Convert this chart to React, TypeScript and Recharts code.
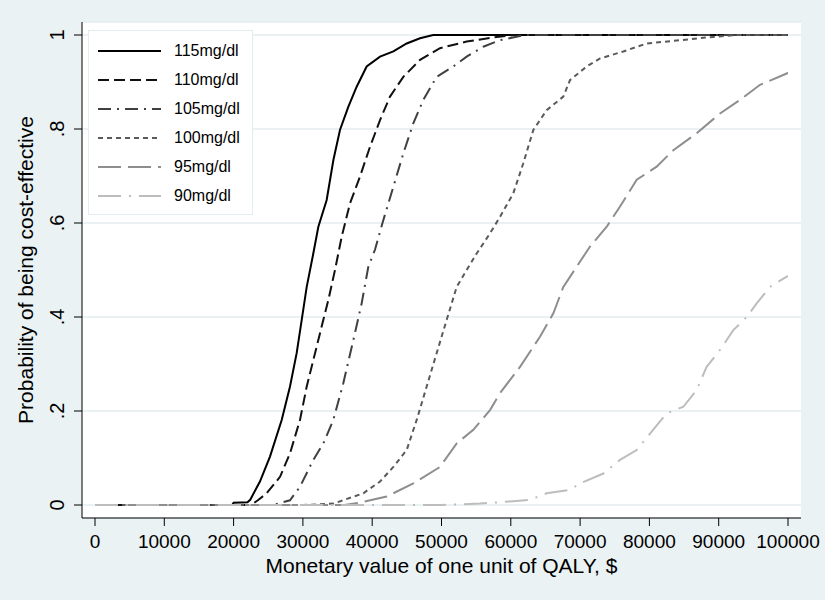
import React from 'react';
import { LineChart, Line, XAxis, YAxis, CartesianGrid, Legend, Label } from 'recharts';

// ---- data ----
const xTicks = [0, 10000, 20000, 30000, 40000, 50000, 60000, 70000, 80000, 90000, 100000];
const yTicks = [0, 0.2, 0.4, 0.6, 0.8, 1];
const yTickLabels = ['0', '.2', '.4', '.6', '.8', '1'];

const seriesNames = ['115mg/dl', '110mg/dl', '105mg/dl', '100mg/dl', '95mg/dl', '90mg/dl'];

const x115 = [0, 19800, 20000, 22000, 22400, 23800, 25250, 26940, 28140, 29100, 29830, 30550, 31500, 32230, 33430, 34400, 35350, 36550, 37760, 39200, 41130, 43050, 44980, 46900, 48800, 100000];
const p115 = [0, 0, 0.005, 0.006, 0.011, 0.05, 0.103, 0.181, 0.252, 0.323, 0.394, 0.464, 0.535, 0.592, 0.649, 0.734, 0.798, 0.847, 0.89, 0.933, 0.954, 0.965, 0.982, 0.993, 1, 1];

const x110 = [0, 22500, 23500, 24770, 26700, 28140, 29580, 30550, 31750, 32950, 33670, 34630, 35600, 36800, 38240, 39680, 41130, 42570, 44490, 46900, 49780, 53630, 57470, 60500, 100000];
const p110 = [0, 0, 0.01, 0.025, 0.06, 0.11, 0.181, 0.252, 0.323, 0.394, 0.436, 0.5, 0.571, 0.642, 0.699, 0.762, 0.819, 0.869, 0.911, 0.947, 0.972, 0.986, 0.995, 1, 1];

const x105 = [0, 25700, 28140, 29580, 31500, 32950, 34390, 35830, 37280, 38480, 39440, 40400, 41600, 43050, 44490, 45930, 47380, 49300, 51700, 53630, 56030, 58440, 62000, 100000];
const p105 = [0, 0, 0.01, 0.039, 0.096, 0.131, 0.181, 0.259, 0.351, 0.429, 0.507, 0.543, 0.606, 0.677, 0.748, 0.812, 0.862, 0.911, 0.933, 0.954, 0.975, 0.989, 1, 1];

const x100 = [0, 30000, 34400, 38720, 41130, 43050, 44980, 46420, 47860, 49300, 50750, 52190, 53630, 55070, 57000, 58440, 60360, 61800, 63250, 65170, 67580, 68540, 70950, 72870, 76240, 79610, 84420, 89220, 92500, 100000];
const p100 = [0, 0, 0.003, 0.025, 0.05, 0.081, 0.117, 0.181, 0.252, 0.323, 0.394, 0.464, 0.5, 0.535, 0.578, 0.613, 0.663, 0.727, 0.798, 0.84, 0.869, 0.904, 0.933, 0.95, 0.965, 0.982, 0.989, 0.996, 1, 1];

const x95 = [0, 36000, 38240, 42090, 45930, 49780, 52190, 54590, 57000, 58440, 61330, 64210, 66140, 67580, 69510, 71430, 73840, 75760, 78170, 81050, 83450, 86820, 90190, 93070, 95960, 99810, 100000];
const p95 = [0, 0, 0.005, 0.018, 0.046, 0.081, 0.131, 0.16, 0.202, 0.238, 0.294, 0.358, 0.408, 0.464, 0.507, 0.55, 0.592, 0.635, 0.692, 0.72, 0.755, 0.791, 0.833, 0.862, 0.894, 0.918, 0.92];

const x90 = [0, 50000, 55560, 60360, 62770, 65170, 68540, 69980, 73360, 75760, 78170, 80090, 82490, 84900, 86820, 88260, 90190, 92110, 94030, 95480, 97400, 99810, 100000];
const p90 = [0, 0, 0.003, 0.008, 0.011, 0.025, 0.032, 0.046, 0.067, 0.096, 0.117, 0.152, 0.195, 0.209, 0.245, 0.294, 0.33, 0.372, 0.4, 0.429, 0.464, 0.486, 0.487];

const seriesX = [x115, x110, x105, x100, x95, x90];
const seriesP = [p115, p110, p105, p100, p95, p90];

// ---- styles ----
const styles = [
  { color: '#000000', dash: undefined as string | undefined },
  { color: '#111111', dash: '11 5' },
  { color: '#404040', dash: '13 6 2 6' },
  { color: '#5a5a5a', dash: '5 4' },
  { color: '#8e8e8e', dash: '23 7' },
  { color: '#bdbdbd', dash: '23 8 2 8' },
];

const FONT = '"Liberation Sans", Arial, Helvetica, sans-serif';
const BG = '#eaf2f3';

const seriesData = seriesX.map((xs, i) => xs.map((x, j) => ({ x, p: seriesP[i][j] })));

const YTick = (props: any) => {
  const { x, y, payload } = props;
  const idx = yTicks.indexOf(payload.value);
  const bx = x - 8;
  return (
    <text x={bx} y={y} transform={`rotate(-90 ${bx} ${y})`} textAnchor="middle" fontSize={20} fill="#000" fontFamily={FONT}>
      {idx >= 0 ? yTickLabels[idx] : String(payload.value)}
    </text>
  );
};

const XTick = (props: any) => {
  const { x, y, payload } = props;
  return (
    <text x={x} y={y + 12} textAnchor="middle" fontSize={19} fill="#000" fontFamily={FONT}>
      {String(payload.value)}
    </text>
  );
};

const XTitle = (props: any) => {
  const vb = props.viewBox || { x: 22, y: 518, width: 779, height: 60 };
  return (
    <text x={vb.x + vb.width / 2} y={vb.y + 55} textAnchor="middle" fontSize={21} fill="#000" fontFamily={FONT}>
      Monetary value of one unit of QALY, $
    </text>
  );
};

const YTitle = (props: any) => {
  const vb = props.viewBox || { x: 22, y: 22, width: 60, height: 496 };
  const bx = vb.x + 11;
  const cy = vb.y + vb.height / 2;
  return (
    <text x={bx} y={cy} transform={`rotate(-90 ${bx} ${cy})`} textAnchor="middle" fontSize={21} fill="#000" fontFamily={FONT}>
      Probability of being cost-effective
    </text>
  );
};

const LegendBox = () => (
  <div
    style={{
      background: '#ffffff',
      border: '1px solid #e3ecee',
      padding: '5px 10px 4px 9px',
      width: 144,
      fontFamily: FONT,
    }}
  >
    {seriesNames.map((name, i) => (
      <div key={name} style={{ display: 'flex', alignItems: 'center', height: 29 }}>
        <svg width={63} height={6} style={{ display: 'block', flex: 'none' }}>
          <line x1={0} y1={3} x2={63} y2={3} stroke={styles[i].color} strokeWidth={2} strokeDasharray={styles[i].dash} />
        </svg>
        <span style={{ marginLeft: 13, fontSize: 16, color: '#000', lineHeight: '29px' }}>{name}</span>
      </div>
    ))}
  </div>
);

export default function App() {
  return (
    <div style={{ position: 'absolute', left: 0, top: 0, width: 825, height: 600, background: BG }}>
      <LineChart width={825} height={600} margin={{ top: 22, right: 24, left: 22, bottom: 22 }}>
        <CartesianGrid fill="#ffffff" vertical={false} stroke="#e2ecee" strokeWidth={1.5} />
        <XAxis
          type="number"
          dataKey="x"
          domain={[0, 100000]}
          ticks={xTicks}
          interval={0}
          padding={{ left: 13, right: 13 }}
          height={60}
          tickSize={8}
          tickMargin={10}
          stroke="#000"
          tick={<XTick />}
          allowDataOverflow
        >
          <Label content={XTitle} />
        </XAxis>
        <YAxis
          type="number"
          domain={[0, 1]}
          ticks={yTicks}
          interval={0}
          padding={{ top: 13, bottom: 13 }}
          width={60}
          tickSize={8}
          tickMargin={2}
          stroke="#000"
          tick={<YTick />}
        >
          <Label content={YTitle} />
        </YAxis>
        <Legend
          layout="vertical"
          align="center"
          verticalAlign="middle"
          content={<LegendBox />}
          wrapperStyle={{ left: 88, top: 30, width: 'auto', height: 'auto' }}
        />
        {seriesData.map((d, i) => (
          <Line
            key={seriesNames[i]}
            data={d}
            dataKey="p"
            name={seriesNames[i]}
            type="linear"
            stroke={styles[i].color}
            strokeWidth={2}
            strokeDasharray={styles[i].dash}
            dot={false}
            activeDot={false}
            isAnimationActive={false}
          />
        ))}
      </LineChart>
    </div>
  );
}
